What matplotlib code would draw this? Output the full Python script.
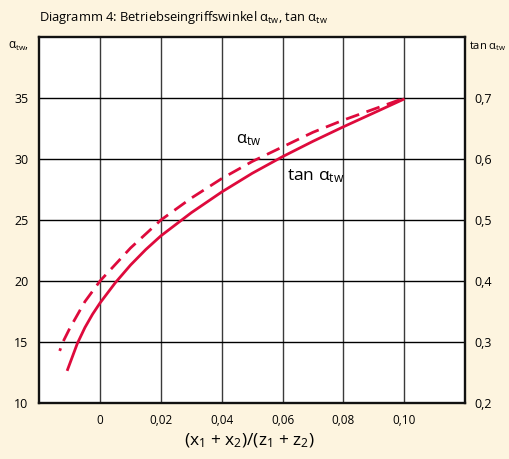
import matplotlib
matplotlib.use("Agg")
import matplotlib.pyplot as plt

plt.rcParams["font.family"] = ["Open Sans", "DejaVu Sans"]
plt.rcParams["mathtext.fontset"] = "custom"
plt.rcParams["mathtext.rm"] = "Open Sans"
plt.rcParams["mathtext.it"] = "Open Sans:italic"

# operating pressure angle alpha_tw (degrees) vs. (x1 + x2)/(z1 + z2)
x_alpha = [-0.0133, -0.0122, -0.010, -0.005, 0.0, 0.010, 0.020, 0.030,
           0.040, 0.050, 0.060, 0.070, 0.080, 0.090, 0.100]
alpha_tw = [14.25, 15.0, 16.1, 18.3, 20.0, 22.7, 25.0, 26.8,
            28.4, 29.8, 31.0, 32.2, 33.2, 34.1, 35.0]

# tan(alpha_tw)
x_tan = [-0.0107, -0.0075, -0.005, -0.0025, 0.0, 0.005, 0.010, 0.015,
         0.020, 0.030, 0.040, 0.050, 0.060, 0.070, 0.080, 0.090, 0.0997]
tan_tw = [0.2544, 0.2972, 0.3234, 0.3452, 0.364, 0.397, 0.426, 0.4514,
          0.474, 0.512, 0.546, 0.5766, 0.604, 0.6292, 0.653, 0.6758, 0.698]

x_ticks = [0.0, 0.02, 0.04, 0.06, 0.08, 0.10]
x_ticklabels = ["0", "0,02", "0,04", "0,06", "0,08", "0,10"]
left_ticks = [10, 15, 20, 25, 30, 35]
left_ticklabels = ["10", "15", "20", "25", "30", "35"]
right_ticks = [0.2, 0.3, 0.4, 0.5, 0.6, 0.7]
right_ticklabels = ["0,2", "0,3", "0,4", "0,5", "0,6", "0,7"]

bg = "#fdf4df"
red = "#de0a3c"
gridc = "#3a3a3a"

A = r"α$_{\mathrm{tw}}$"
TAN_A = r"tan α$_{\mathrm{tw}}$"

fig = plt.figure(figsize=(5.10, 4.59), dpi=100, facecolor=bg)
ax = fig.add_axes([0.0771, 0.1227, 0.8347, 0.7961])
ax.set_facecolor("white")
ax.set_xlim(-0.02, 0.12)
ax.set_ylim(10, 40)

for xv in x_ticks:
    ax.axvline(xv, color=gridc, lw=1.0, zorder=1)
for yv in left_ticks[1:]:
    ax.axhline(yv, color="black", lw=1.0, zorder=1)

for s in ax.spines.values():
    s.set_linewidth(1.7)
    s.set_color("#111111")

ax.set_xticks(x_ticks)
ax.set_xticklabels(x_ticklabels, fontsize=8.5)
ax.set_yticks(left_ticks)
ax.set_yticklabels(left_ticklabels, fontsize=9)
ax.tick_params(axis="x", length=0, pad=8.5)
ax.tick_params(axis="y", length=0, pad=8)

ax.plot(x_alpha, alpha_tw, color=red, lw=2.0,
        linestyle=(4.0, (5.0, 2.8)), zorder=3, solid_capstyle="butt")

ax2 = ax.twinx()
ax2.set_ylim(0.2, 0.8)
ax2.set_yticks(right_ticks)
ax2.set_yticklabels(right_ticklabels, fontsize=9)
ax2.tick_params(axis="y", length=0, pad=6.5)
for s in ax2.spines.values():
    s.set_visible(False)
ax2.plot(x_tan, tan_tw, color=red, lw=2.0, zorder=3)

ax.text(0.0447, 31.6, A, fontsize=12, va="center", ha="left", zorder=4)
ax.text(0.0615, 28.6, TAN_A, fontsize=12.5, va="center", ha="left", zorder=4)

fig.text(39 / 510, 1 - 17 / 459,
         "Diagramm 4: Betriebseingriffswinkel " + A + ", " + TAN_A,
         fontsize=9.3, va="center", ha="left")
fig.text(8 / 510, 1 - 46 / 459, A + ",", fontsize=8.5, va="center", ha="left")
fig.text(469 / 510, 1 - 46 / 459, TAN_A, fontsize=8, va="center", ha="left")
fig.text(249 / 510, 1 - 441 / 459, r"(x$_1$ + x$_2$)/(z$_1$ + z$_2$)", fontsize=12.5,
         va="center", ha="center")

fig.savefig("out.png", dpi=100, facecolor=bg)
